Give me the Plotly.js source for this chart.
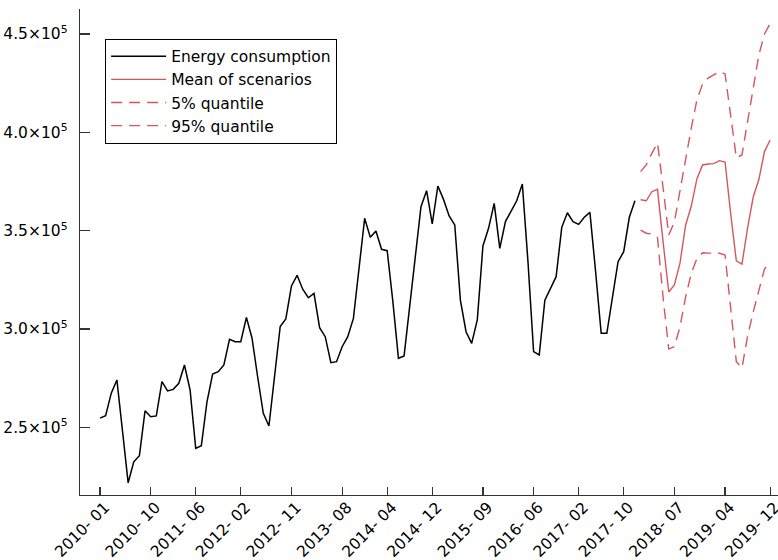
<!DOCTYPE html>
<html>
<head>
<meta charset="utf-8">
<script src="https://cdn.plot.ly/plotly-3.0.1.min.js"></script>
<style>
  html, body { margin: 0; padding: 0; background: #fff; }
  #chart { width: 778px; height: 560px; }
</style>
</head>
<body>
<div id="chart"></div>
<script>
// Monthly energy consumption, 2010-01 .. 2017-12
const energy = [
  254700, 255900, 267400, 274100, 248100, 221800, 232500, 235600, 258400, 255400, 255800, 273200,
  268500, 269300, 272400, 281700, 269000, 239300, 240700, 263000, 277100, 278300, 281700, 294800,
  293500, 293500, 305900, 295300, 275600, 257100, 250700, 275100, 301200, 305100, 321900, 327300,
  320200, 315900, 318100, 300700, 296100, 282900, 283400, 291000, 296100, 305400, 330100, 356300,
  346600, 349800, 340500, 339800, 314200, 285100, 286300, 311500, 337100, 362200, 370300, 353400,
  372700, 365900, 357500, 352900, 314700, 298600, 292700, 304600, 342200, 351200, 363900, 341000,
  354600, 360100, 365200, 373700, 334200, 288500, 286800, 314700, 320700, 326600, 351700, 359100,
  354600, 353200, 356800, 359300, 329500, 297800, 297800, 316600, 334200, 339300, 356800, 365200
];
// Scenario forecasts, 2018-01 .. 2019-12
const scenarioMean = [
  365700, 365200, 369800, 371000, 344200, 318800, 322400, 333600, 352900, 362500, 376300, 383400,
  383900, 384100, 385600, 384900, 358500, 334700, 333000, 351400, 367100, 376000, 390200, 396100
];
const quantile5 = [
  350300, 348700, 348300, 346600, 315800, 289800, 291000, 301200, 316400, 328300, 335900, 338800,
  338600, 338600, 338500, 337600, 310700, 283400, 280200, 296400, 308600, 320300, 330500, 334100
];
const quantile95 = [
  380000, 383400, 389300, 394600, 371700, 347800, 354400, 370700, 385900, 402200, 416400, 424600,
  427600, 429200, 430900, 429700, 408300, 387100, 388500, 405300, 424100, 439300, 450000, 455300
];
const startYear = 2010;
const monthCount = 120;
const tickMonths = ['2010-01','2010-10','2011-06','2012-02','2012-11','2013-08','2014-04','2014-12',
                    '2015-09','2016-06','2017-02','2017-10','2018-07','2019-04','2019-12'];
const yTickVals = [250000, 300000, 350000, 400000, 450000];
const yTickText = ['2.5×10<sup>5</sup>','3.0×10<sup>5</sup>','3.5×10<sup>5</sup>','4.0×10<sup>5</sup>','4.5×10<sup>5</sup>'];

const months = [];
for (let k = 0; k < monthCount; k++) {
  const y = startYear + Math.floor(k / 12);
  const m = (k % 12) + 1;
  months.push(y + '-' + (m < 10 ? '0' + m : '' + m));
}
const histX = months.slice(0, energy.length);
const fcX = months.slice(energy.length, energy.length + scenarioMean.length);
const tickText = tickMonths.map(s => s.replace('-', '- '));

const red = '#d5575c';
const traces = [
  { x: histX, y: energy, type: 'scatter', mode: 'lines', name: 'Energy consumption',
    line: { color: '#000', width: 1.5 } },
  { x: fcX, y: scenarioMean, type: 'scatter', mode: 'lines', name: 'Mean of scenarios',
    line: { color: red, width: 1.4 } },
  { x: fcX, y: quantile5, type: 'scatter', mode: 'lines', name: '5% quantile',
    line: { color: red, width: 1.4, dash: '11px,7px' } },
  { x: fcX, y: quantile95, type: 'scatter', mode: 'lines', name: '95% quantile',
    line: { color: red, width: 1.4, dash: '11px,7px' } }
];

const font = { family: 'DejaVu Sans, Liberation Sans, Arial, sans-serif', size: 15.5, color: '#000' };
const layout = {
  width: 778, height: 560,
  margin: { l: 80, r: 0, t: 9, b: 65, pad: 0 },
  paper_bgcolor: '#fff', plot_bgcolor: '#fff',
  font: font,
  showlegend: true,
  legend: {
    x: 0.036, y: 0.939, xanchor: 'left', yanchor: 'top',
    bordercolor: '#000', borderwidth: 1, bgcolor: '#fff',
    font: font, itemwidth: 55, tracegroupgap: 0
  },
  xaxis: {
    type: 'category', categoryorder: 'array', categoryarray: months,
    range: [-3.55, 120.4],
    tickmode: 'array', tickvals: tickMonths, ticktext: tickText,
    tickangle: -45, ticks: 'inside', ticklen: 8, tickwidth: 1.2, tickcolor: '#333',
    showline: true, linecolor: '#333', linewidth: 1.3,
    showgrid: false, zeroline: false,
    ticklabelshift: 5, ticklabelstandoff: -4,
    tickfont: font
  },
  yaxis: {
    range: [215600, 462700],
    tickmode: 'array', tickvals: yTickVals, ticktext: yTickText,
    ticks: 'inside', ticklen: 10, tickwidth: 1.2, tickcolor: '#333',
    showline: true, linecolor: '#333', linewidth: 1.3,
    showgrid: false, zeroline: false,
    ticklabelstandoff: 8,
    tickfont: font
  }
};
Plotly.newPlot('chart', traces, layout, { displayModeBar: false, staticPlot: true });
</script>
</body>
</html>
